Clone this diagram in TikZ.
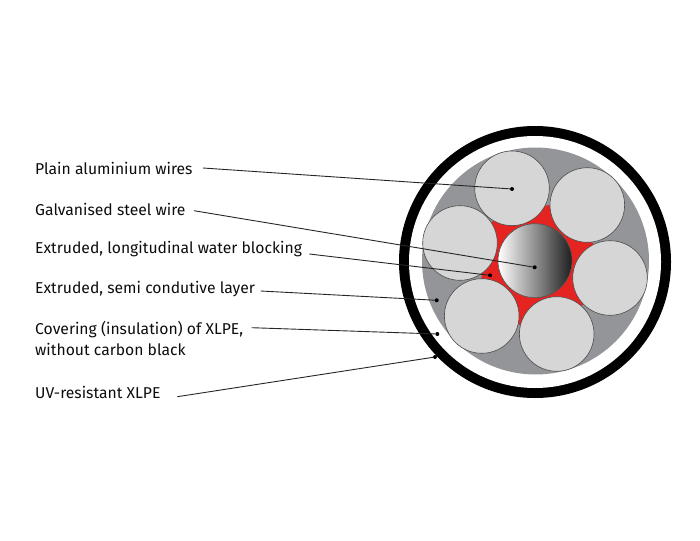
\documentclass[tikz,border=0pt]{standalone}
\usepackage{xcolor}
\usepackage{fontspec}
\setmainfont{Fira Sans}
\definecolor{fillergray}{HTML}{939598}
\definecolor{wiregray}{HTML}{D6D6D6}
\definecolor{blockred}{HTML}{E52421}
\begin{document}
\begin{tikzpicture}[x=1pt, y=-1pt,
    layer/.style={circle, inner sep=0pt},
    wire/.style={circle, inner sep=0pt, minimum size=74.6pt, draw=black!70, line width=0.6pt, fill=wiregray},
    lbl/.style={anchor=west, inner xsep=0pt, inner ysep=0pt, text=black!95, font=\fontsize{15.7}{20.5}\selectfont},
    dot/.style={circle, fill=black, inner sep=0pt, minimum size=4pt},
    leader/.style={draw=black!85, line width=0.9pt}]
    \useasboundingbox (0,0) rectangle (700,540);

    % Cable layers
    \node[layer, fill=black, minimum size=272pt] (sheath) at (535,262) {};
    \node[layer, fill=white, minimum size=252pt] (cover) at (535,262) {};
    \node[layer, fill=fillergray, minimum size=227pt] (semi) at (535.5,261) {};
    \fill[blockred] (548.3,205) -- (593.3,243.3) -- (583.3,305) -- (519.3,325) -- (481.3,278.3) -- (491.7,221.7) -- cycle;

    % Wires
    \node[wire] (wireA) at (512,188.3) {};
    \node[wire] (wireB) at (587.3,205) {};
    \node[wire] (wireC) at (610,278) {};
    \node[wire] (wireD) at (556.7,334) {};
    \node[wire] (wireE) at (481.7,316) {};
    \node[wire] (wireF) at (460,243) {};
    \node[wire, minimum size=74pt, left color=white, middle color=black!40, right color=black!88] (core) at (535,260.7) {};

    % Labels
    \node[lbl] (alu) at (35,168) {Plain aluminium wires};
    \node[lbl] (steel) at (35,209) {Galvanised steel wire};
    \node[lbl] (water) at (35,249) {Extruded, longitudinal water blocking};
    \node[lbl] (layer) at (35,289) {Extruded, semi condutive layer};
    \node[lbl, align=left] (xlpe) at (35,338.5) {Covering (insulation) of XLPE,\\without carbon black};
    \node[lbl] (uv) at (35,392) {UV-resistant XLPE};

    % Pointers
    \node[dot] (aluDot) at (512,189) {};
    \node[dot] (steelDot) at (534.7,267.3) {};
    \node[dot] (waterDot) at (490,275.3) {};
    \node[dot] (layerDot) at (436.7,300.3) {};
    \node[dot] (xlpeDot) at (437.3,334) {};
    \node[dot] (uvDot) at (435,357) {};
    \coordinate (aluStart) at (203,168);
    \coordinate (steelStart) at (194,210.7);
    \coordinate (waterStart) at (309.3,254);
    \coordinate (layerStart) at (260.7,291);
    \coordinate (xlpeStart) at (251.7,327.7);
    \coordinate (uvStart) at (177.3,396.7);

    \draw[leader] (aluStart) -- (aluDot);
    \draw[leader] (steelStart) -- (steelDot);
    \draw[leader] (waterStart) -- (waterDot);
    \draw[leader] (layerStart) -- (layerDot);
    \draw[leader] (xlpeStart) -- (xlpeDot);
    \draw[leader] (uvStart) -- (uvDot);
\end{tikzpicture}
\end{document}
